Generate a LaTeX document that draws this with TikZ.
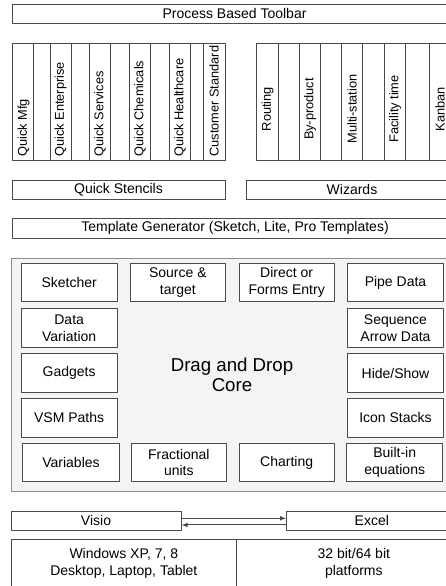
\documentclass[tikz,border=0pt]{standalone}
\usepackage{fontspec}
\setmainfont{Liberation Sans}
\usepackage{tikz}
\usetikzlibrary{arrows.meta}
\definecolor{edge}{HTML}{4A4A4A}
\definecolor{coreedge}{HTML}{8C8C8C}
\definecolor{corefill}{HTML}{F4F4F4}
\tikzset{fig/.style={line join=round,>=Stealth},
  span/.style n args={4}{at={({(#1+#3)/2},{(#2+#4)/2})},
    minimum width={(#3-#1)*0.75pt},minimum height={(#4-#2)*0.75pt}},
  box/.style={draw=edge,line width=0.75pt,inner sep=0pt,fill=white,align=center,
    font=\fontsize{10.5}{12.5}\selectfont},
  vtext/.style={rotate=90,inner sep=0pt,font=\fontsize{9.6}{11}\selectfont}}

\begin{document}
\begin{tikzpicture}[fig,x=0.75pt,y=-0.75pt]
  \useasboundingbox (0,0) rectangle (446,586);
  \node[box,span={12}{4}{457}{23}] (toolbar) {Process Based Toolbar};
  % stencil columns
  \draw[edge,line width=0.75pt] (12,43) rectangle (225,160);
  \foreach \x in {33.3,50,71,89.3,110.7,129.3,150.7,169.3,190.7,203.3}
    \draw[edge,line width=0.75pt] (\x,43) -- (\x,160);
  \foreach \x/\t [count=\i] in {23.5/Quick Mfg,60.5/Quick Enterprise,100/Quick Services,
      140/Quick Chemicals,180/Quick Healthcare,214/Customer Standard}
    \node[vtext,anchor=west] (q\i) at (\x,157) {\t};
  % wizard columns
  \draw[edge,line width=0.75pt] (256.7,43) rectangle (475,160);
  \foreach \x in {278.3,299,320.7,341.7,362.7,384.3,405.7,429.3,451}
    \draw[edge,line width=0.75pt] (\x,43) -- (\x,160);
  \foreach \x/\t [count=\i] in {267.5/Routing,310/By-product,352/Multi-station,
      395/Facility time,440/Kanban}
    \node[vtext] (w\i) at (\x,109) {\t};
  \node[box,span={12}{180}{225}{199}] (stencils) {Quick Stencils};
  \node[box,span={246}{180}{458}{199}] (wizards) {Wizards};
  \node[box,span={12}{218.3}{458}{238.3}] (templates) {Template Generator (Sketch, Lite, Pro Templates)};
  % core
  \node[draw=coreedge,fill=corefill,line width=0.75pt,inner sep=0pt,align=center,
    font=\fontsize{14}{15}\selectfont,span={11}{258.3}{453}{491.7}] (core) {Drag and Drop\\Core};
  \node[box,span={21}{263.3}{117.3}{301.7}] (sketcher) {Sketcher};
  \node[box,span={130}{263.3}{225.7}{301.7}] (source) {Source \&\\target};
  \node[box,span={239}{263.3}{334.3}{301.7}] (entry) {Direct or\\Forms Entry};
  \node[box,span={347.7}{263.3}{443.3}{301.7}] (pipe) {Pipe Data};
  \node[box,span={21}{308.3}{117.3}{347.7}] (variation) {Data\\Variation};
  \node[box,span={347.7}{308.3}{443.3}{347.7}] (sequence) {Sequence\\Arrow Data};
  \node[box,span={21}{353.3}{117.3}{392.7}] (gadgets) {Gadgets};
  \node[box,span={347.7}{353.3}{443.3}{392.7}] (hide) {Hide/Show};
  \node[box,span={21}{398.3}{117.3}{437.3}] (vsm) {VSM Paths};
  \node[box,span={347.7}{398.3}{443.3}{437.3}] (icons) {Icon Stacks};
  \node[box,span={22.7}{443.3}{119.3}{481.7}] (variables) {Variables};
  \node[box,span={131}{443.3}{226.7}{481.7}] (fraction) {Fractional\\units};
  \node[box,span={239}{443.3}{334.3}{481.7}] (charting) {Charting};
  \node[box,span={346.7}{443.3}{442.7}{481.7}] (builtin) {Built-in\\equations};
  % links
  \node[box,span={11}{511}{181}{530.7}] (visio) {Visio};
  \node[box,span={286.7}{511}{457}{530.7}] (excel) {Excel};
  \draw[edge,line width=0.75pt,-{Latex[length=4.5pt,width=3.5pt]}]
    ([yshift=1.9pt]visio.east) -- ([yshift=1.9pt]excel.west);
  \draw[edge,line width=0.75pt,-{Latex[length=4.5pt,width=3.5pt]}]
    ([yshift=-3.1pt]excel.west) -- ([yshift=-3.1pt]visio.east);
  \node[box,span={11}{539}{236.7}{588}] (windows) {Windows XP, 7, 8\\Desktop, Laptop, Tablet};
  \node[box,span={236.7}{539}{471}{588}] (bits) {32 bit/64 bit\\platforms};
\end{tikzpicture}
\end{document}
